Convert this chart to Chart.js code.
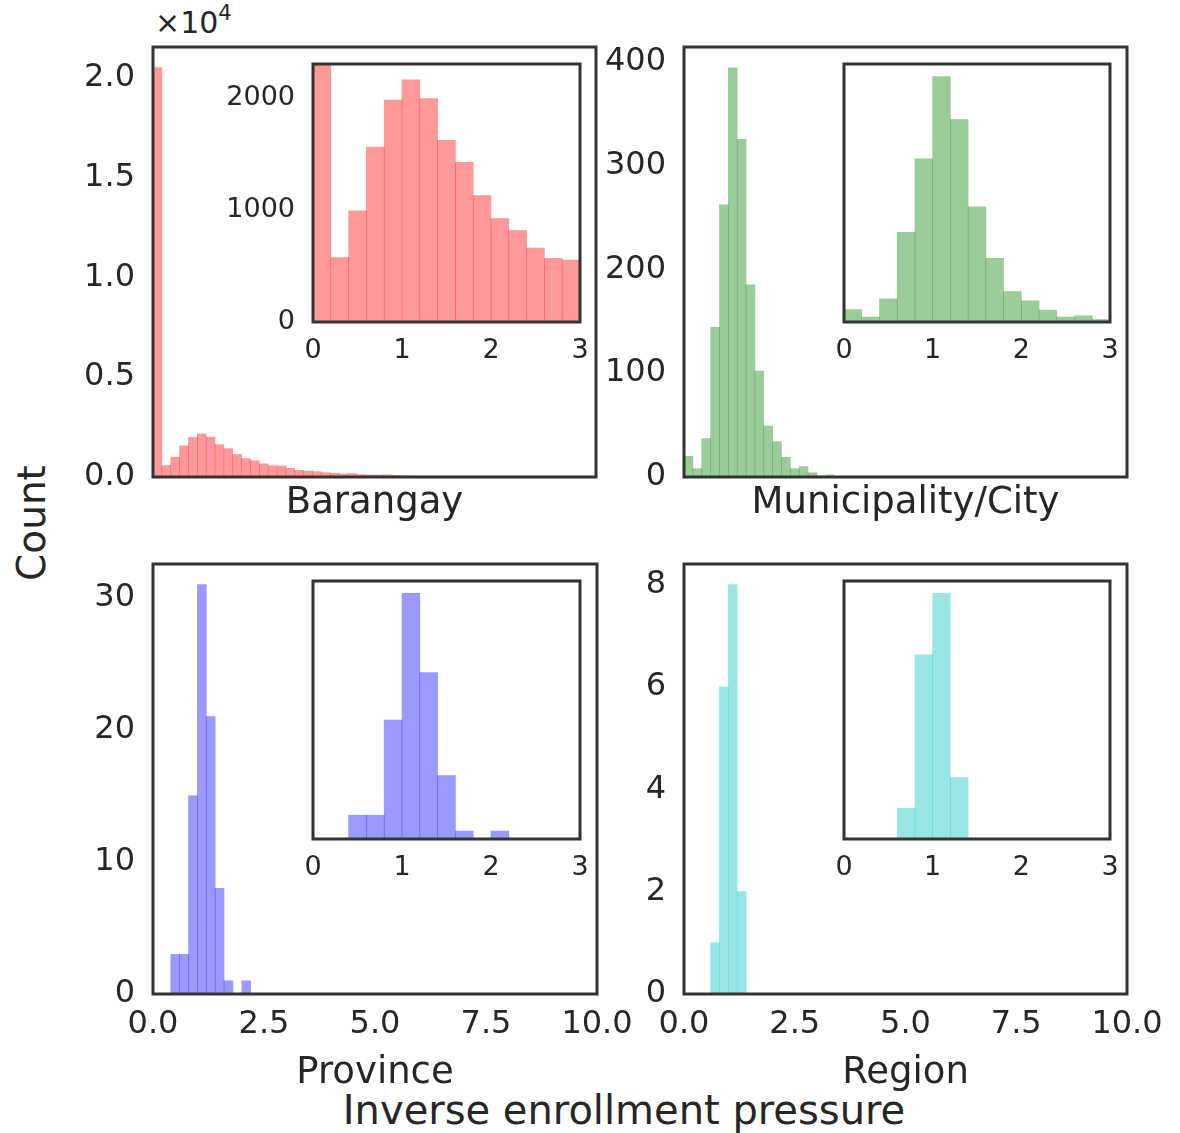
<!DOCTYPE html>
<html>
<head>
<meta charset="utf-8">
<script src="https://cdn.jsdelivr.net/npm/chart.js@4"></script>
<style>
  body { margin: 0; background: #fff; }
  #fig { position: relative; width: 1180px; height: 1133px; overflow: hidden; background: #fff;
         font-family: "DejaVu Sans", sans-serif; color: #262626; }
  #fig canvas { position: absolute; }
  .lbl { position: absolute; white-space: nowrap; line-height: normal; }
</style>
</head>
<body>
<div id="fig">
  <div class="lbl" style="left:155px; top:5px; font-size:30px;">×10<span style="font-size:21px; position:relative; top:-13px;">4</span></div>
  <div class="lbl" style="left:31px; top:523px; font-size:39px; transform:translate(-50%,-50%) rotate(-90deg);">Count</div>
  <div class="lbl" style="left:624px; top:1110px; font-size:40px; transform:translate(-50%,-50%);">Inverse enrollment pressure</div>
</div>
<script>
// histogram counts, bins of width 0.2 starting at 0
const binWidth = 0.2;
const barangayCounts = [20500, 574, 991, 1559, 1979, 2158, 1991, 1619, 1423, 1128, 923, 815, 658, 568, 551,
                        433, 333, 300, 267, 217, 183, 150, 170, 117, 100, 100, 110, 80, 60, 45, 35, 30, 25, 20, 15, 12, 10, 8, 6, 5];
const municipalityCounts = [20, 8, 37, 144, 262, 394, 325, 185, 102, 49, 34, 19, 8, 10, 4, 1, 2];
const provinceCounts = [0, 0, 3, 3, 15, 31, 21, 8, 1, 0, 1];
const regionCounts = [0, 0, 0, 1, 6, 8, 2];

// tick values
const mainXTicks = [0, 2.5, 5, 7.5, 10];
const insetXTicks = [0, 1, 2, 3];
const barangayYTicks = [0, 5000, 10000, 15000, 20000];
const barangayInsetYTicks = [0, 1000, 2000];
const municipalityYTicks = [0, 100, 200, 300, 400];
const provinceYTicks = [0, 10, 20, 30];
const regionYTicks = [0, 2, 4, 6, 8];

const FONT = 'DejaVu Sans';
const TEXT = '#262626';
const fig = document.getElementById('fig');

function toPoints(counts) {
  return counts.map((c, i) => ({ x: (i + 0.5) * binWidth, y: c }));
}

const framePlugin = {
  id: 'frame',
  beforeDatasetsDraw(chart) {
    const a = chart.chartArea, ctx = chart.ctx;
    ctx.save();
    ctx.fillStyle = '#fff';
    ctx.fillRect(a.left, a.top, a.right - a.left, a.bottom - a.top);
    ctx.restore();
  },
  afterDatasetsDraw(chart) {
    const a = chart.chartArea, ctx = chart.ctx;
    ctx.save();
    ctx.strokeStyle = '#333';
    ctx.lineWidth = 3;
    ctx.strokeRect(a.left, a.top, a.right - a.left, a.bottom - a.top);
    ctx.restore();
  }
};

// canvas is placed so that the chart area lands on o.box; paddings are kept
// larger than the label overflow Chart.js reserves, so it doesn't move the area
function panel(o) {
  const [l, t, r, b] = o.box;
  const w = (r - l) + o.yW + o.padL + o.padR;
  const h = (b - t) + o.padT + o.xH;
  const cv = document.createElement('canvas');
  cv.width = w; cv.height = h;
  cv.style.left = (l - o.yW - o.padL) + 'px';
  cv.style.top = (t - o.padT) + 'px';
  cv.style.width = w + 'px';
  cv.style.height = h + 'px';
  fig.appendChild(cv);

  new Chart(cv, {
    type: 'bar',
    data: {
      datasets: [{
        data: toPoints(o.counts),
        backgroundColor: o.color,
        borderWidth: 0,
        barPercentage: 1,
        categoryPercentage: 1,
        clip: 0
      }]
    },
    options: {
      responsive: false,
      animation: false,
      layout: { padding: { left: o.padL, right: o.padR, top: o.padT, bottom: 0 } },
      plugins: { legend: { display: false }, tooltip: { enabled: false } },
      scales: {
        x: {
          type: 'linear', min: 0, max: o.xMax, offset: false,
          grid: { display: false, drawTicks: false },
          border: { display: false },
          afterBuildTicks: s => { s.ticks = o.xTicks.map(v => ({ value: v })); },
          afterFit: s => { s.height = o.xH; },
          ticks: {
            display: o.showX, padding: o.xPad, maxRotation: 0, autoSkip: false,
            font: { family: FONT, size: o.xFont }, color: TEXT,
            callback: o.xFmt
          },
          title: {
            display: !!o.title, text: o.title || '', padding: 0,
            font: { family: FONT, size: 37 }, color: TEXT
          }
        },
        y: {
          min: 0, max: o.yMax,
          grid: { display: false, drawTicks: false },
          border: { display: false },
          afterBuildTicks: s => { s.ticks = o.yTicks.map(v => ({ value: v })); },
          afterFit: s => { s.width = o.yW; },
          ticks: {
            display: o.showY, padding: 18,
            font: { family: FONT, size: o.yFont }, color: TEXT,
            callback: o.yFmt
          }
        }
      }
    },
    plugins: [framePlugin]
  });
}

const RED = 'rgba(255,0,0,0.4)';
const GREEN = 'rgba(0,128,0,0.4)';
const BLUE = 'rgba(0,0,255,0.4)';
const CYAN = 'rgba(0,191,191,0.4)';

const mainFmt = v => v.toFixed(1);
const intFmt = v => String(v);

// main panels
const mains = [
  { box: [153, 47, 596, 477], counts: barangayCounts, color: RED, yMax: 21525, yTicks: barangayYTicks,
    yFmt: v => (v / 10000).toFixed(1), showX: false, xH: 49, title: 'Barangay' },
  { box: [684, 47, 1127, 477], counts: municipalityCounts, color: GREEN, yMax: 414, yTicks: municipalityYTicks,
    yFmt: intFmt, showX: false, xH: 49, title: 'Municipality/City' },
  { box: [153, 564, 597, 994], counts: provinceCounts, color: BLUE, yMax: 32.55, yTicks: provinceYTicks,
    yFmt: intFmt, showX: true, xH: 102, title: 'Province' },
  { box: [684, 564, 1127, 994], counts: regionCounts, color: CYAN, yMax: 8.4, yTicks: regionYTicks,
    yFmt: intFmt, showX: true, xH: 102, title: 'Region' }
];
mains.forEach(m => panel(Object.assign({
  xMax: 10, xTicks: mainXTicks, xFmt: mainFmt, xPad: 11, xFont: 32, yFont: 32,
  showY: true, yW: 90, padL: 4, padT: 44, padR: 52
}, m)));

// insets
const insets = [
  { box: [313, 64, 580, 322], counts: barangayCounts, color: RED, yMax: 2300, yTicks: barangayInsetYTicks, showY: true, yW: 95 },
  { box: [844, 64, 1110, 322], counts: municipalityCounts, color: GREEN, yMax: 414, yTicks: municipalityYTicks, showY: false, yW: 0 },
  { box: [313, 581, 580, 839], counts: provinceCounts, color: BLUE, yMax: 32.55, yTicks: provinceYTicks, showY: false, yW: 0 },
  { box: [844, 581, 1110, 839], counts: regionCounts, color: CYAN, yMax: 8.4, yTicks: regionYTicks, showY: false, yW: 0 }
];
insets.forEach(m => panel(Object.assign({
  xMax: 3, xTicks: insetXTicks, xFmt: intFmt, xPad: 13, xFont: 27, yFont: 27,
  yFmt: intFmt, showX: true, xH: 50, padL: 26, padT: 40, padR: 26
}, m)));
</script>
</body>
</html>
